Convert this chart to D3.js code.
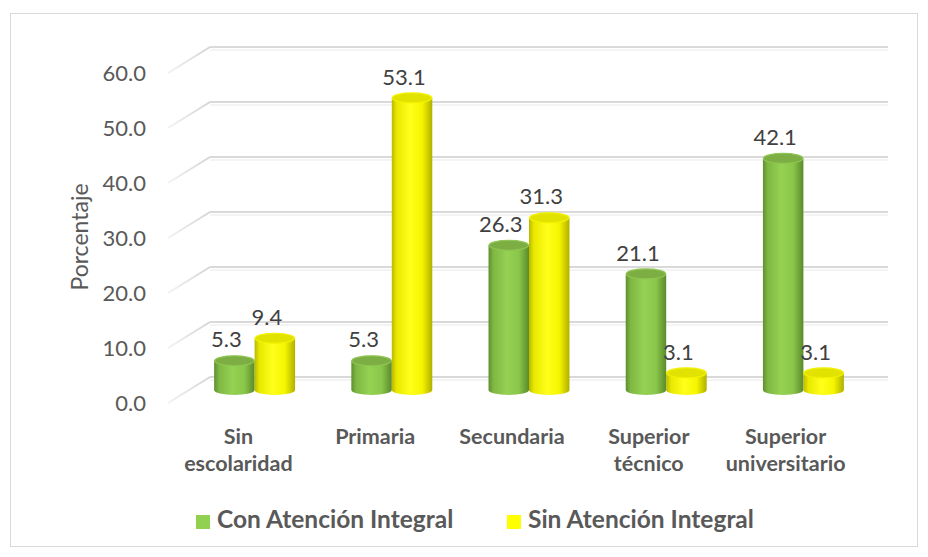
<!DOCTYPE html>
<html>
<head>
<meta charset="utf-8">
<script src="https://cdn.jsdelivr.net/npm/d3@7"></script>
<style>
  body { margin: 0; background: #fff; }
  svg { display: block; font-family: Lato, 'Open Sans', sans-serif; }
</style>
</head>
<body>
<svg width="928" height="557"></svg>
<script>
let categories = [['Sin', 'escolaridad'], ['Primaria'], ['Secundaria'],
  ['Superior', 'técnico'], ['Superior', 'universitario']];
let seriesNames = ['Con Atención Integral', 'Sin Atención Integral'];
let conAtencion = [5.3, 5.3, 26.3, 21.1, 42.1];
let sinAtencion = [9.4, 53.1, 31.3, 3.1, 3.1];
let yTicks = [0, 10, 20, 30, 40, 50, 60];

(function() {
  let svg = d3.select('svg');
  let series = [conAtencion, sinAtencion];
  let keys = categories.map(function(c) { return c.join(' '); });

  // oblique depth: back wall vs front edge
  let depthX = 42, depthY = -26;

  let yFront = d3.scaleLinear().domain([0, 60]).range([403, 73]);
  let yBar = d3.scaleLinear().domain([0, 60]).range([390, 60]);
  let xFront = d3.scaleBand().domain(keys).range([170, 854]);
  let xBar = d3.scaleBand().domain(keys).range([186, 872]).paddingInner(0.41).paddingOuter(0.205);
  let xSub = d3.scaleBand().domain([0, 1]).range([0, xBar.bandwidth()]);

  let defs = svg.append('defs');
  function cylGrad(id, stops) {
    let g = defs.append('linearGradient').attr('id', id)
      .attr('x1', '0%').attr('x2', '100%').attr('y1', '0%').attr('y2', '0%');
    stops.forEach(function(s) {
      g.append('stop').attr('offset', s[0]).attr('stop-color', s[1]);
    });
  }
  cylGrad('g0', [['0%', '#5f8f2f'], ['12%', '#7fb743'], ['45%', '#95d253'],
    ['75%', '#8ac64a'], ['100%', '#5b8a2b']]);
  cylGrad('g1', [['0%', '#b9b900'], ['12%', '#e8e800'], ['45%', '#ffff1a'],
    ['75%', '#f5f500'], ['100%', '#b0b000']]);
  let topFill = ['#7cae44', '#e2e200'];
  let topStroke = ['#8fc552', '#f2f200'];
  let legendFill = ['#92d050', '#ffff00'];

  let diag = defs.append('linearGradient').attr('id', 'diag')
    .attr('x1', '0%').attr('x2', '100%');
  diag.append('stop').attr('offset', '0%').attr('stop-color', '#f2f2f2');
  diag.append('stop').attr('offset', '100%').attr('stop-color', '#d4d4d4');

  svg.append('rect')
    .attr('x', 10.5).attr('y', 13.5)
    .attr('width', 907).attr('height', 533)
    .attr('fill', '#fff')
    .attr('stroke', '#d9d9d9');

  let x0 = xFront.range()[0] - 2;
  let grid = svg.append('g').attr('class', 'grid');
  grid.selectAll('line.back')
    .data(yTicks)
    .enter().append('line')
    .attr('class', 'back')
    .attr('x1', x0 + depthX).attr('x2', 888)
    .attr('y1', function(d) { return yFront(d) + depthY; })
    .attr('y2', function(d) { return yFront(d) + depthY; })
    .attr('stroke', '#d9d9d9')
    .attr('stroke-width', 2);
  grid.selectAll('line.shade')
    .data(yTicks)
    .enter().append('line')
    .attr('class', 'shade')
    .attr('x1', x0 + depthX).attr('x2', 888)
    .attr('y1', function(d) { return yFront(d) + depthY + 3; })
    .attr('y2', function(d) { return yFront(d) + depthY + 3; })
    .attr('stroke', '#f0f0f0')
    .attr('stroke-width', 1.5);
  grid.selectAll('path.side')
    .data(yTicks)
    .enter().append('path')
    .attr('class', 'side')
    .attr('d', function(d) {
      return 'M' + x0 + ',' + yFront(d) + 'L' + (x0 + depthX) + ',' + (yFront(d) + depthY);
    })
    .attr('stroke', 'url(#diag)')
    .attr('stroke-width', 2)
    .attr('fill', 'none');

  svg.append('g')
    .selectAll('text')
    .data(yTicks)
    .enter().append('text')
    .attr('x', 146)
    .attr('y', function(d) { return yFront(d) + 2; })
    .attr('text-anchor', 'end')
    .attr('dominant-baseline', 'middle')
    .attr('fill', '#595959')
    .style('font-size', '22px')
    .text(function(d) { return d3.format('.1f')(d); });

  svg.append('text')
    .attr('transform', 'translate(82,237) rotate(-90)')
    .attr('text-anchor', 'middle')
    .attr('dominant-baseline', 'middle')
    .attr('fill', '#595959')
    .style('font-size', '23px')
    .text('Porcentaje');

  let ry = 5;
  let bars = [];
  series.forEach(function(vals, s) {
    vals.forEach(function(v, i) {
      bars.push({ s: s, v: v, x: xBar(keys[i]) + xSub(s), w: xSub.bandwidth() });
    });
  });

  let cyl = svg.append('g').attr('class', 'bars')
    .selectAll('g')
    .data(bars)
    .enter().append('g');

  cyl.append('path')
    .attr('d', function(d) {
      let top = yBar(d.v), bot = yBar(0), rx = d.w / 2;
      return 'M' + d.x + ',' + top +
        'L' + d.x + ',' + bot +
        'A' + rx + ',' + ry + ' 0 0 0 ' + (d.x + d.w) + ',' + bot +
        'L' + (d.x + d.w) + ',' + top + 'Z';
    })
    .attr('fill', function(d) { return 'url(#g' + d.s + ')'; });

  cyl.append('ellipse')
    .attr('cx', function(d) { return d.x + d.w / 2; })
    .attr('cy', function(d) { return yBar(d.v); })
    .attr('rx', function(d) { return d.w / 2 - 0.5; })
    .attr('ry', ry)
    .attr('fill', function(d) { return topFill[d.s]; })
    .attr('stroke', function(d) { return topStroke[d.s]; })
    .attr('stroke-width', 1.2);

  svg.append('g').attr('class', 'labels')
    .selectAll('text')
    .data(bars)
    .enter().append('text')
    .attr('x', function(d) { return d.x + d.w / 2 - 8; })
    .attr('y', function(d) { return yBar(d.v) - 19; })
    .attr('text-anchor', 'middle')
    .attr('dominant-baseline', 'middle')
    .attr('fill', '#404040')
    .style('font-size', '22px')
    .text(function(d) { return d3.format('.1f')(d.v); });

  let cat = svg.append('g').attr('class', 'cats')
    .selectAll('text')
    .data(categories)
    .enter().append('text')
    .attr('x', function(d) { return xFront(d.join(' ')) + xFront.bandwidth() / 2; })
    .attr('y', 436)
    .attr('text-anchor', 'middle')
    .attr('fill', '#595959')
    .style('font-size', '21.5px')
    .style('font-weight', 'bold');
  cat.selectAll('tspan')
    .data(function(d) { return d; })
    .enter().append('tspan')
    .attr('x', function() { return d3.select(this.parentNode).attr('x'); })
    .attr('dy', function(d, i) { return i === 0 ? '0.35em' : 27; })
    .text(function(d) { return d; });

  let legendX = [196, 507];
  let leg = svg.append('g').attr('class', 'legend')
    .selectAll('g')
    .data(seriesNames)
    .enter().append('g')
    .attr('transform', function(d, i) { return 'translate(' + legendX[i] + ',522)'; });
  leg.append('rect')
    .attr('x', 0).attr('y', -7)
    .attr('width', 14).attr('height', 14)
    .attr('fill', function(d, i) { return legendFill[i]; });
  leg.append('text')
    .attr('x', 21)
    .attr('dominant-baseline', 'middle')
    .attr('fill', '#595959')
    .style('font-size', '24.5px')
    .style('font-weight', 'bold')
    .text(function(d) { return d; });
})();
</script>
</body>
</html>
